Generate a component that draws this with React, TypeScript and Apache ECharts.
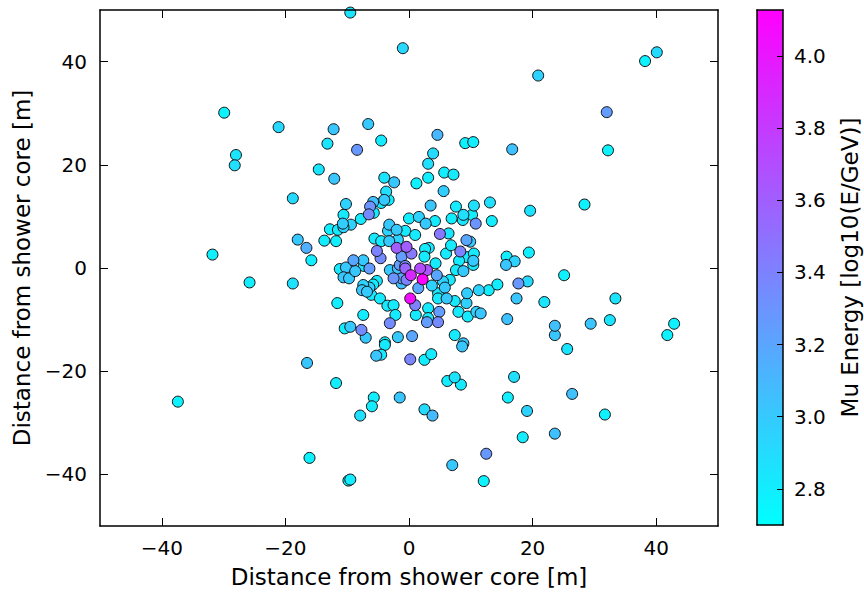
import React, { useEffect, useRef } from "react";
import * as echarts from "echarts";

// Muon hit positions relative to the shower core [m] and their energies [log10(E/GeV)]
const xs = [
  -29.9, -21.1, -28.0, -28.2, -9.5, -1.0, -12.2, -6.6, -13.2, -8.4, -4.5, 4.6, 9.1, 10.4, 16.7, 3.9, 3.1, -14.6, -12.1, -4.0,
  -2.4, 1.2, 3.1, 5.7, 7.2, 20.9, 40.1, 38.2, 32.0, 32.2, -18.8, -31.8, -18.0, -16.6, -15.8, -25.8, -18.8, 19.6, 28.4, 15.8,
  17.1, 15.7, 19.4, 25.1, 17.7, 19.2, 17.4, 21.9, 33.4, 15.9, 23.6, 23.6, 29.4, 32.5, 42.9, 41.8, 25.6, 17.0, 16.0, 26.4,
  19.1, 31.7, 18.4, 23.6, -16.5, -37.4, -16.1, -3.9, -5.3, -4.5, 0.2, 2.5, 3.6, 8.6, -11.8, -5.7, -6.0, -7.9, -1.5, 6.2,
  7.4, 8.4, 2.5, 3.8, -9.5, -9.8, 12.5, 7.0, 12.1,
  -3.7, 5.6, -4.0, -3.3, -4.5, -10.2, -6.3, -5.8, -6.5, -5.7, 3.5, 7.6, 10.5, 13.1, 8.8, 10.2, 8.7, 6.9, 10.8, 13.4,
  -10.6, -7.8, -10.7, -9.4, -12.8, -11.5, -10.6, -13.7, -11.8, 0.0, 1.6, 2.7, 4.2, -3.2, -2.0, -3.4, -0.6, 1.0, 5.0, 6.4,
  -5.6, -4.5, -3.2, -1.8, -5.2, -4.6, -2.0, -0.4, 0.4, 2.6, 3.2, 4.3, 6.0, 6.8, 8.3, 9.3, 9.9, 9.4, 10.4, 8.1,
  7.6, 8.8, -11.2, -10.2, -9.0, -8.7, -7.3, -6.4, -10.6, -9.7, -7.6, -6.8, -6.4, -6.1, -5.2, -4.7, -3.1, -1.8, -2.5, -1.2,
  -1.2, -0.6, 0.3, 1.8, 2.9, 2.2, -1.5, -0.4, 0.2, 1.0, 1.1, 1.5, 3.7, 4.5, 5.5, 5.8, 4.7, 4.7, 6.1, 4.9,
  4.7, 2.9, 3.1, 3.1, 9.4, 11.3, 12.9, 14.3, 7.4, 9.3, 8.0, 9.5, 10.9, 11.6, 7.4, 8.8, -3.5, -2.5, -2.2, -3.1,
  -7.4, -9.5, -7.7, -7.0, -10.4, -11.6, -1.8, 0.5, -3.9, 10.4, 6.6, -7.4, -5.8, -7.4, -1.2, 2.5, 10.5, -0.6,
];

const ys = [
  30.1, 27.3, 21.9, 19.9, 49.5, 42.6, 26.9, 27.9, 24.1, 22.9, 24.7, 25.8, 24.2, 24.4, 23.0, 22.2, 20.2, 19.1, 17.3, 17.5,
  16.6, 16.4, 17.5, 18.5, 18.1, 37.3, 41.8, 40.1, 30.2, 22.8, 13.5, 2.6, 5.5, 3.9, 1.5, -2.8, -3.0, 11.1, 12.3, 2.2,
  1.3, 0.6, 3.0, -1.4, -3.0, -2.6, -5.9, -6.6, -5.9, -9.9, -11.2, -13.0, -10.8, -10.1, -10.8, -13.0, -15.7, -21.1, -25.1, -24.4,
  -27.7, -28.4, -32.8, -32.1, -18.4, -25.9, -36.8, -14.9, -17.0, -16.8, -17.7, -17.8, -16.7, -15.2, -22.3, -25.1, -26.8, -28.6, -25.1, -21.9,
  -21.2, -22.6, -27.4, -28.6, -41.0, -41.2, -36.0, -38.2, -41.3,
  14.8, 14.9, 13.2, 13.2, 12.6, 12.4, 11.9, 12.8, 10.4, 10.7, 12.1, 11.9, 12.1, 12.7, 10.3, 10.3, 9.3, 9.6, 8.6, 9.1,
  10.3, 9.5, 8.6, 8.4, 7.5, 7.4, 7.9, 5.3, 5.2, 9.6, 9.9, 8.6, 9.1, 8.4, 7.4, 7.2, 7.2, 6.4, 6.6, 6.7,
  5.7, 5.2, 5.2, 5.5, 3.3, 1.9, 3.9, 4.1, 2.8, 3.7, 3.9, 0.9, 2.8, 4.4, 3.2, 5.4, 5.1, 2.1, 1.4, 1.4,
  -0.4, -0.6, -0.2, 0.1, 1.5, -0.6, 0.4, -0.1, -1.8, -2.0, -4.3, -4.6, -3.8, -5.2, -2.5, -5.9, -0.4, -0.1, -2.0, -3.0,
  -2.0, -0.1, -1.4, -0.1, -0.4, -2.2, 0.6, -2.3, -5.9, -7.2, -9.1, -3.9, -3.4, -1.4, -2.6, -3.8, -4.9, -5.9, -5.9, -8.5,
  -10.5, -10.5, -7.8, -9.7, -4.9, -4.3, -4.3, -3.2, -6.4, -6.8, -8.5, -9.4, -8.5, -8.8, -13.0, -14.6, -7.3, -7.2, -9.1, -10.7,
  -9.1, -11.4, -12.0, -13.5, -11.7, -6.8, -13.4, -13.2, -14.4, 0.6, -2.3, -3.3, -3.2, 1.5, 2.2, 2.2, 2.8, 0.4,
];

const energy = [
  2.78, 2.92, 2.85, 2.88, 2.85, 2.92, 3.02, 3.0, 2.85, 3.28, 2.82, 3.1, 2.78, 2.8, 3.05, 2.9, 2.88, 2.85, 3.02, 2.85,
  3.02, 2.78, 2.8, 2.8, 2.82, 2.95, 2.9, 2.78, 3.25, 2.78, 2.9, 2.78, 3.0, 3.15, 2.8, 2.8, 2.86, 2.86, 2.78, 2.8,
  2.95, 3.02, 2.8, 2.78, 3.28, 2.92, 3.02, 2.85, 2.85, 3.05, 3.05, 3.02, 3.02, 2.85, 2.78, 2.78, 2.85, 2.88, 2.8, 3.05,
  2.95, 2.78, 2.8, 3.05, 3.02, 2.78, 2.78, 2.82, 3.02, 2.82, 3.38, 2.8, 2.82, 3.02, 2.8, 2.8, 2.82, 2.88, 3.02, 2.8,
  2.85, 2.82, 2.9, 3.08, 2.8, 2.78, 3.28, 3.0, 2.78,
  2.88, 2.98, 3.0, 2.8, 2.8, 2.95, 3.3, 3.05, 3.35, 2.82, 3.02, 2.82, 2.88, 2.88, 2.88, 2.8, 2.85, 2.8, 3.3, 2.8,
  2.82, 2.82, 2.98, 2.95, 2.8, 2.82, 2.95, 2.8, 2.8, 2.8, 2.95, 3.0, 2.82, 3.0, 3.0, 2.95, 2.82, 2.82, 3.45, 2.85,
  2.82, 2.82, 3.0, 2.95, 3.4, 3.35, 3.6, 3.6, 3.45, 2.82, 2.8, 2.82, 2.82, 2.82, 3.4, 3.2, 3.0, 2.82, 3.0, 2.82,
  2.82, 3.0, 2.82, 3.0, 3.2, 3.02, 2.82, 3.25, 3.0, 3.0, 3.0, 3.0, 2.95, 2.82, 2.82, 2.82, 3.0, 3.05, 3.3, 3.05,
  3.2, 3.55, 3.9, 3.7, 3.65, 4.12, 3.25, 3.4, 4.05, 3.4, 2.82, 3.2, 2.95, 3.2, 2.95, 3.0, 2.82, 2.82, 3.0, 3.25,
  3.35, 3.25, 2.82, 2.82, 2.98, 2.95, 2.8, 2.8, 2.82, 2.95, 2.82, 2.82, 2.95, 3.02, 2.82, 3.0, 2.82, 2.82, 2.82, 3.35,
  2.8, 3.0, 3.35, 3.0, 2.8, 2.8, 3.0, 3.2, 2.8, 2.82, 2.82, 2.95, 2.82, 3.0, 3.25, 2.82, 2.82, 3.35,
];

const axisTicks = [-40, -20, 0, 20, 40];
const colorbarTicks = [2.8, 3.0, 3.2, 3.4, 3.6, 3.8, 4.0];
const energyMin = 2.7;
const energyMax = 4.127;
const axisTitle = "Distance from shower core [m]";
const colorbarTitle = "Mu Energy [log10(E/GeV)]";

const FONT = "DejaVu Sans";
const fmtMinus = (v: number) => String(v).replace("-", "\u2212");

export default function App() {
  const ref = useRef<HTMLDivElement>(null);

  useEffect(() => {
    if (!ref.current) return;
    const chart = echarts.init(ref.current, null, { renderer: "svg" });

    const order = energy.map((_, i) => i).sort((a, b) => energy[a] - energy[b]);
    const points = order.map((i) => [xs[i], ys[i], energy[i]]);

    const line = { show: true, onZero: false, lineStyle: { color: "#000", width: 1.5 } };
    const tick = (values: number[], len = 8) => ({
      show: true,
      inside: true,
      length: len,
      customValues: values,
      lineStyle: { color: "#000", width: 1 },
    });
    const labelStyle = { color: "#000", fontSize: 20, fontFamily: FONT };
    const titleStyle = { color: "#000", fontSize: 23, fontFamily: FONT };

    chart.setOption({
      animation: false,
      backgroundColor: "#fff",
      grid: [
        { left: 100, top: 10, width: 618, height: 516, outerBoundsMode: "none", containLabel: false },
        { left: 757, top: 10, width: 26, height: 515, outerBoundsMode: "none", containLabel: false },
      ],
      visualMap: {
        show: false,
        type: "continuous",
        min: energyMin,
        max: energyMax,
        dimension: 2,
        seriesIndex: 0,
        inRange: { color: ["#00ffff", "#ff00ff"] },
      },
      xAxis: [
        {
          gridIndex: 0,
          type: "value",
          min: -50,
          max: 50,
          position: "bottom",
          name: axisTitle,
          nameLocation: "middle",
          nameGap: 39,
          nameTextStyle: titleStyle,
          axisLine: line,
          axisTick: tick(axisTicks),
          axisLabel: { ...labelStyle, customValues: axisTicks, formatter: fmtMinus, margin: 12 },
          splitLine: { show: false },
          z: 10,
        },
        {
          gridIndex: 0,
          type: "value",
          min: -50,
          max: 50,
          position: "top",
          axisLine: line,
          axisTick: tick(axisTicks),
          axisLabel: { show: false },
          splitLine: { show: false },
          z: 10,
        },
        {
          gridIndex: 1,
          type: "category",
          data: [""],
          position: "bottom",
          axisLine: line,
          axisTick: { show: false },
          axisLabel: { show: false },
          splitLine: { show: false },
          z: 10,
        },
        {
          gridIndex: 1,
          type: "category",
          data: [""],
          position: "top",
          axisLine: line,
          axisTick: { show: false },
          axisLabel: { show: false },
          splitLine: { show: false },
          z: 10,
        },
      ],
      yAxis: [
        {
          gridIndex: 0,
          type: "value",
          min: -50,
          max: 50,
          position: "left",
          name: axisTitle,
          nameLocation: "middle",
          nameRotate: 90,
          nameGap: 63,
          nameTextStyle: titleStyle,
          axisLine: line,
          axisTick: tick(axisTicks),
          axisLabel: { ...labelStyle, customValues: axisTicks, formatter: fmtMinus, margin: 13 },
          splitLine: { show: false },
          z: 10,
        },
        {
          gridIndex: 0,
          type: "value",
          min: -50,
          max: 50,
          position: "right",
          axisLine: line,
          axisTick: tick(axisTicks),
          axisLabel: { show: false },
          splitLine: { show: false },
          z: 10,
        },
        {
          gridIndex: 1,
          type: "value",
          min: energyMin,
          max: energyMax,
          position: "right",
          name: colorbarTitle,
          nameLocation: "middle",
          nameRotate: 90,
          nameGap: 55,
          nameTextStyle: titleStyle,
          axisLine: line,
          axisTick: tick(colorbarTicks, 6),
          axisLabel: {
            ...labelStyle,
            customValues: colorbarTicks,
            formatter: (v: number) => v.toFixed(1),
            margin: 11,
          },
          splitLine: { show: false },
          z: 10,
        },
        {
          gridIndex: 1,
          type: "value",
          min: energyMin,
          max: energyMax,
          position: "left",
          axisLine: line,
          axisTick: { show: false },
          axisLabel: { show: false },
          splitLine: { show: false },
          z: 10,
        },
      ],
      series: [
        {
          type: "scatter",
          xAxisIndex: 0,
          yAxisIndex: 0,
          data: points,
          symbol: "circle",
          symbolSize: 11,
          itemStyle: { borderColor: "#111", borderWidth: 1, opacity: 1 },
          z: 3,
        },
        {
          type: "bar",
          xAxisIndex: 2,
          yAxisIndex: 2,
          stack: "cb",
          data: [energyMin],
          barWidth: "100%",
          itemStyle: { color: "rgba(0,0,0,0)" },
          silent: true,
        },
        {
          type: "bar",
          xAxisIndex: 2,
          yAxisIndex: 2,
          stack: "cb",
          data: [energyMax - energyMin],
          barWidth: "100%",
          silent: true,
          itemStyle: {
            color: new echarts.graphic.LinearGradient(0, 1, 0, 0, [
              { offset: 0, color: "#00ffff" },
              { offset: 1, color: "#ff00ff" },
            ]),
          },
        },
      ],
    });

    return () => chart.dispose();
  }, []);

  return (
    <div
      ref={ref}
      style={{ position: "fixed", left: 0, top: 0, width: 864, height: 596, background: "#fff" }}
    />
  );
}
